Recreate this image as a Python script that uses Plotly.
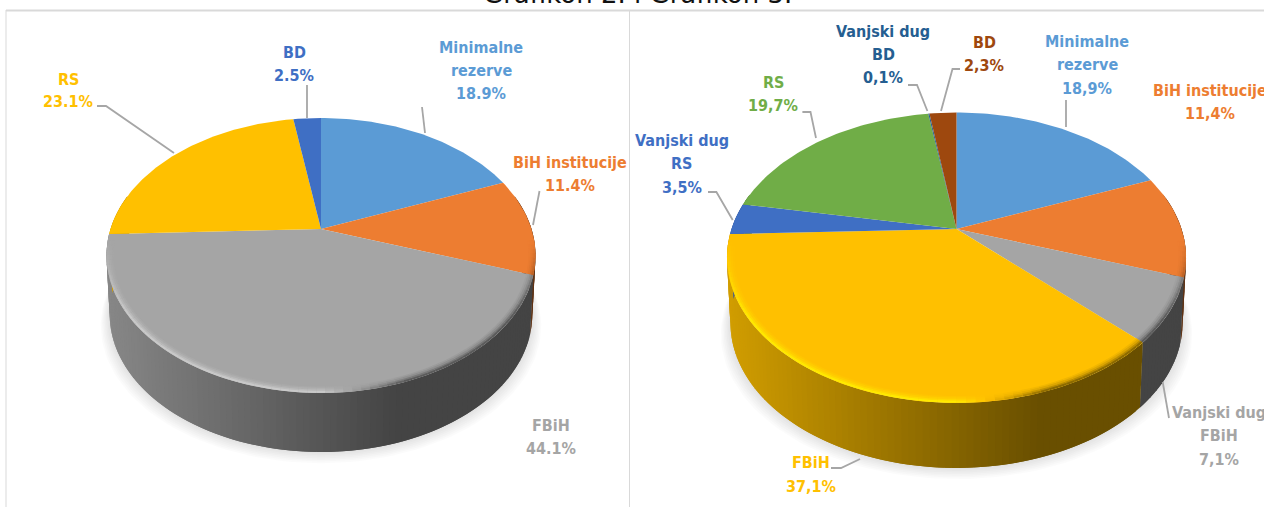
import numpy as np
import plotly.graph_objects as go

# ---------- data ----------
left_names = ["Minimalne<br>rezerve", "BiH institucije", "FBiH", "RS", "BD"]
left_values = [18.9, 11.4, 44.1, 23.1, 2.5]
left_colors = ["#5b9bd5", "#ed7d31", "#a5a5a5", "#ffc000", "#3f6fc4"]

right_names = ["Minimalne<br>rezerve", "BiH institucije", "Vanjski dug<br>FBiH", "FBiH",
               "Vanjski dug<br>RS", "RS", "Vanjski dug<br>BD", "BD"]
right_values = [18.9, 11.4, 7.1, 37.1, 3.5, 19.7, 0.1, 2.3]
right_colors = ["#5b9bd5", "#ed7d31", "#a5a5a5", "#ffc000", "#3f6fc4", "#70ad47", "#255e91", "#9e480e"]

title_text = "Grafikon 2. i Grafikon 3."

# label anchor: centre x, first-line y, line pitch
left_label_pos = [(481, 47, 23), (570, 162, 23), (551, 425, 23), (68, 79, 22), (294, 52, 23)]
right_label_pos = [(1087, 41, 23.5), (1210, 90, 23), (1219, 412, 23.5), (810.5, 462, 24),
                   (681.5, 140, 23.5), (773, 82, 23), (883, 31, 23), (984, 42, 23)]

leaders = [
    [(307, 85), (307, 118)], [(422, 107), (425, 133)], [(539.5, 191), (533, 225)],
    [(97, 106), (106, 106), (174, 153)],
    [(908, 85), (917, 85), (927.4, 111)], [(960, 69), (952.5, 69), (941, 111)],
    [(1066, 100), (1066, 127)], [(802.4, 112), (810.5, 112), (816, 138)],
    [(708, 192), (716.4, 192), (732.7, 220)], [(1162.7, 382), (1169, 418)],
    [(831, 468), (841, 468), (860, 459)],
]

LABEL_FONT = "DejaVu Sans Condensed"
LABEL_SIZE = 16

fig = go.Figure()


def hex2rgb(c):
    return np.array([int(c[i:i + 2], 16) for i in (1, 3, 5)], dtype=float)


def rgb2hex(v):
    v = np.clip(np.round(v), 0, 255).astype(int)
    return "#%02x%02x%02x" % tuple(v)


def poly(xs, ys, color):
    fig.add_trace(go.Scatter(x=xs, y=ys, mode="lines", fill="toself", fillcolor=color,
                             line=dict(width=0), hoverinfo="skip", showlegend=False))


def draw_pie(values, colors, cx, cy, a, b, k, depth, shrink):
    def proj(theta, r=1.0):
        u, v = r * np.sin(theta), r * np.cos(theta)
        d = 1 + k * v
        return cx + a * u / d, cy - b * v / d

    def under(theta, grow=0.0, off=0.0):
        x, y = proj(theta)
        return cx + (shrink + grow) * (x - cx), y + depth + off

    full = np.linspace(0, 2 * np.pi, 240)
    xmin, xmax = proj(full)[0].min(), proj(full)[0].max()

    # soft shadow
    for i in range(7, 0, -1):
        ctr = np.linspace(np.pi * 0.4, np.pi * 1.6, 120)
        sx, sy = under(ctr, grow=0.006 * i, off=1.6 * i)
        poly(sx, sy, "rgba(0,0,0,0.014)")

    edges = np.cumsum([0] + list(values)) / sum(values) * 2 * np.pi

    def wall_mult(x):
        t = (x - xmin) / (xmax - xmin)
        return 0.41 if t >= 0.69 else 0.82 - (0.82 - 0.41) * t / 0.69

    # side wall: overlapping strips coloured by horizontal position
    lo, hi = np.radians(75), np.radians(285)
    for s, col in enumerate(colors):
        t0, t1 = max(edges[s], lo), min(edges[s + 1], hi)
        if t1 <= t0:
            continue
        n = max(1, int(np.ceil((t1 - t0) / np.radians(1.5))))
        th = np.linspace(t0, t1, n + 1)
        base = hex2rgb(col)
        for j in range(n):
            end = th[min(j + 2, n)]
            seg = np.linspace(th[j], end, 4)
            xt, yt = proj(seg)
            xb, yb = under(seg)
            poly(list(xt) + list(xb[::-1]), list(yt) + list(yb[::-1]),
                 rgb2hex(base * wall_mult(proj(th[j])[0])))

    # top surface
    for s, col in enumerate(colors):
        th = np.linspace(edges[s], edges[s + 1], max(3, int((edges[s + 1] - edges[s]) / 0.02)))
        x, y = proj(th)
        poly([cx] + list(x) + [cx], [cy] + list(y) + [cy], col)

    # bevel on the front rim: blurred band, built up from inner to outer
    def rim_mult(theta, x):
        t = (x - xmin) / (xmax - xmin)
        if t < 0.5:
            m = 1.22
        elif t < 0.7:
            m = 1.22 + (0.55 - 1.22) * (t - 0.5) / 0.2
        else:
            m = 0.55
        e = min(1.0, (theta - np.radians(95)) / np.radians(30), (np.radians(265) - theta) / np.radians(30))
        return 1 + (m - 1) * max(e, 0)

    for r, width, strength in [(0.975, 3, 0.12), (0.982, 3, 0.3), (0.989, 2.5, 0.6), (0.995, 2, 1.0)]:
        for s, col in enumerate(colors):
            t0, t1 = max(edges[s], np.radians(95)), min(edges[s + 1], np.radians(265))
            if t1 <= t0:
                continue
            n = max(1, int(np.ceil((t1 - t0) / np.radians(2.0))))
            th = np.linspace(t0, t1, n + 1)
            base = hex2rgb(col)
            for j in range(n):
                seg = np.linspace(th[j], th[j + 1], 3)
                xr, yr = proj(seg, r)
                m = rim_mult(seg.mean(), xr.mean())
                c = base * (1 + (m - 1) * strength)
                fig.add_trace(go.Scatter(x=xr, y=yr, mode="lines",
                                         line=dict(color=rgb2hex(c), width=width),
                                         hoverinfo="skip", showlegend=False))


draw_pie(left_values, left_colors, 321, 229, 210.5, 132.4, 0.1927, 59, 0.985)
draw_pie(right_values, right_colors, 956.5, 229, 225, 139.5, 0.198, 65, 0.985)

# leader lines
for pts in leaders:
    fig.add_trace(go.Scatter(x=[p[0] for p in pts], y=[p[1] for p in pts], mode="lines",
                             line=dict(color="#a6a6a6", width=1.8), hoverinfo="skip", showlegend=False))

# labels
annotations = [dict(x=637, y=8, xref="x", yref="y", text=title_text, showarrow=False, xanchor="center",
                    yanchor="bottom", yshift=-3, font=dict(family="DejaVu Sans", size=26, color="#111111"))]


def add_labels(names, values, colors, positions, sep):
    for name, val, col, (lx, ly, pitch) in zip(names, values, colors, positions):
        pct = f"{val:.1f}".replace(".", sep) + "%"
        for i, line in enumerate(name.split("<br>") + [pct]):
            annotations.append(dict(x=lx, y=ly + i * pitch, xref="x", yref="y", text=f"<b>{line}</b>",
                                    showarrow=False, xanchor="center", yanchor="middle",
                                    font=dict(family=LABEL_FONT, size=LABEL_SIZE, color=col)))


add_labels(left_names, left_values, left_colors, left_label_pos, ".")
add_labels(right_names, right_values, right_colors, right_label_pos, ",")

# panel frame
frame = dict(type="line", xref="x", yref="y")
shapes = [
    dict(frame, x0=6, x1=1264, y0=10.5, y1=10.5, line=dict(color="#d9d9d9", width=2)),
    dict(frame, x0=6, x1=6, y0=10, y1=507, line=dict(color="#d9d9d9", width=1)),
    dict(frame, x0=629.5, x1=629.5, y0=10, y1=507, line=dict(color="#d9d9d9", width=1)),
]

fig.update_layout(
    width=1264, height=507, autosize=False, margin=dict(l=0, r=0, t=0, b=0),
    paper_bgcolor="white", plot_bgcolor="white", showlegend=False,
    xaxis=dict(range=[0, 1264], visible=False, fixedrange=True),
    yaxis=dict(range=[507, 0], visible=False, fixedrange=True),
    annotations=annotations, shapes=shapes, hovermode=False,
)

fig.write_html("out.html", config={"displayModeBar": False},
               post_script="document.body.style.margin='0';document.body.style.overflow='hidden';")
